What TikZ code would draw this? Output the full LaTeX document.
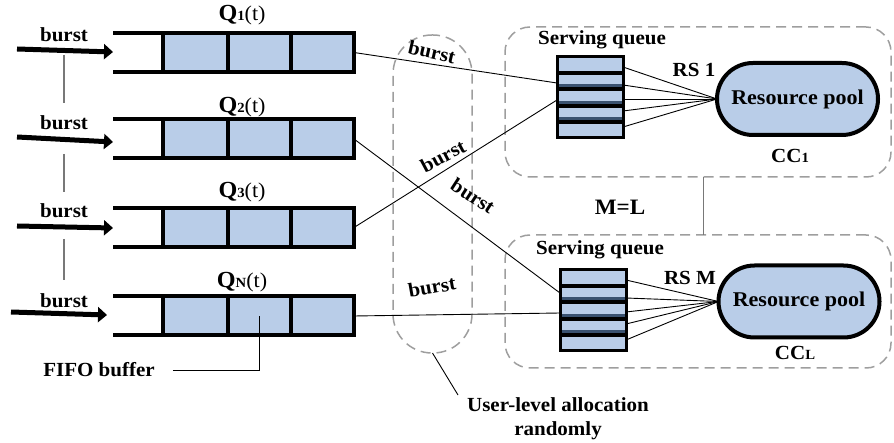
\documentclass[tikz,border=0pt]{standalone}
\usepackage{fontspec}
\setmainfont[FakeStretch=1.05]{Liberation Serif}
\usetikzlibrary{arrows.meta,calc,shapes.misc}
\definecolor{cellblue}{RGB}{185,205,232}
\definecolor{stripblue}{RGB}{58,82,112}
\definecolor{dashgray}{RGB}{158,158,158}
\definecolor{linkgray}{RGB}{120,120,120}

\newcommand{\qname}[1]{{\fontsize{23}{24}\selectfont\bfseries Q}{\fontsize{14}{15}\selectfont\bfseries #1}{\fontsize{21}{22}\selectfont (t)}}
\newcommand{\ccname}[1]{{\fontsize{20}{22}\selectfont\bfseries CC}{\fontsize{14}{15}\selectfont\bfseries #1}}

\begin{document}
\begin{tikzpicture}[x=1pt,y=-1pt,
  txt/.style={font=\fontsize{20}{22}\selectfont\bfseries, inner sep=0pt},
  qlabel/.style={inner sep=0pt},
  qbody/.style={draw, line width=4pt, fill=cellblue, minimum width=191pt,
    minimum height=39pt, inner sep=0pt, outer sep=0pt},
  qdiv/.style={line width=4pt},
  qmouth/.style={line width=4pt},
  inarrow/.style={line width=5pt, -{Triangle[length=9pt,width=15pt]}},
  graylink/.style={draw=linkgray, line width=1.2pt},
  link/.style={line width=0.9pt},
  sqbox/.style={draw, fill=black, line width=3pt, minimum width=66pt,
    minimum height=81pt, inner sep=0pt, outer sep=0pt},
  pool/.style={rounded rectangle, draw, line width=4pt, fill=cellblue,
    minimum width=161pt, minimum height=72pt, inner sep=0pt, outer sep=0pt,
    font=\fontsize{21}{22}\selectfont\bfseries},
  dbox/.style={draw=dashgray, line width=1.5pt, dash pattern=on 10pt off 6pt,
    inner sep=0pt, outer sep=0pt},
]
\useasboundingbox (0,0) rectangle (894,443);

% cloud-centre groups and allocation capsule (dashed)
\node[dbox, rounded corners=25pt, minimum width=386pt, minimum height=150pt] (cc1box) at (698,102) {};
\node[dbox, rounded corners=25pt, minimum width=386pt, minimum height=133pt] (cc2box) at (698,301.5) {};
\node[dbox, rounded corners=39pt, minimum width=79pt, minimum height=318pt] (alloc) at (432.5,194) {};

% user queues
\foreach \n/\y in {q1/52.5, q2/139, q3/227.5, qN/316}{
  \node[qbody] (\n) at (258.5,\y) {};
  \draw[qdiv] ($(\n.north west)+(65,0)$) -- ($(\n.south west)+(65,0)$);
  \draw[qdiv] ($(\n.north west)+(128,0)$) -- ($(\n.south west)+(128,0)$);
  \draw[qmouth] ($(\n.north west)+(-50,0)$) -- (\n.north west);
  \draw[qmouth] ($(\n.south west)+(-50,0)$) -- (\n.south west);
}
\node[qlabel] (l1) at (242,15) {\qname{1}};
\node[qlabel] (l2) at (242,107) {\qname{2}};
\node[qlabel] (l3) at (242,192) {\qname{3}};
\node[qlabel] (lN) at (242,282) {\qname{N}};

% incoming bursts
\node[txt] (b1) at (64,35) {burst};
\node[txt] (b2) at (64,123) {burst};
\node[txt] (b3) at (64,211) {burst};
\node[txt] (bN) at (64,301) {burst};
\coordinate (g1a) at (64,55);  \coordinate (g1b) at (64,103);
\coordinate (g2a) at (64,154); \coordinate (g2b) at (64,192);
\coordinate (g3a) at (64,239); \coordinate (g3b) at (64,280);
\draw[graylink] (g1a) -- (g1b);
\draw[graylink] (g2a) -- (g2b);
\draw[graylink] (g3a) -- (g3b);

\coordinate (t1) at (17,49);  \coordinate (h1) at (113,52);
\coordinate (t2) at (17,137); \coordinate (h2) at (113,142);
\coordinate (t3) at (17,226); \coordinate (h3) at (113,228);
\coordinate (tN) at (11,312); \coordinate (hN) at (107,315);
\draw[inarrow] (t1) -- (h1);
\draw[inarrow] (t2) -- (h2);
\draw[inarrow] (t3) -- (h3);
\draw[inarrow] (tN) -- (hN);

% FIFO buffer callout
\node[txt] (fifo) at (99,370) {FIFO buffer};
\coordinate (fifocell) at ($(qN.west)+(96,0)$);
\draw[link] ([xshift=18pt]fifo.east) -- (fifocell |- fifo.east) -- (fifocell);

% serving queues
\node[sqbox] (sq1) at (590,97.5) {};
\node[sqbox] (sq2) at (593,310.5) {};
\foreach \s in {sq1,sq2}{
  \foreach \i in {0,...,4}{
    \fill[cellblue] ($(\s.north west)+(1.5,1.5+\i*16.4)$) rectangle ++(63,12.4);
  }
  \foreach \i in {1,2,3}{
    \fill[stripblue] ($(\s.north west)+(1.5,10.9+\i*16.4)$) rectangle ++(63,3);
  }
}
\node[txt] (sl1) at (602,40) {Serving queue};
\node[txt] (sl2) at (600,250) {Serving queue};

% user queues to serving queues
\coordinate (s1a) at (557,83);
\coordinate (s1b) at (557,100);
\coordinate (s2a) at (560,293);
\coordinate (s2b) at (560,313);
\draw[link] (q1.east) -- (s1a);
\draw[link] (q3.east) -- (s1b);
\draw[link] (q2.east) -- (s2a);
\draw[link] (qN.east) -- (s2b);

\node[txt, rotate=-13] (m1) at (432,52) {burst};
\node[txt, rotate=28] (m2) at (443,156) {burst};
\node[txt, rotate=-33] (m3) at (473,196) {burst};
\node[txt, rotate=10] (m4) at (432,287) {burst};

% resource pools
\node[pool] (rp1) at (797.5,99) {Resource pool};
\node[pool] (rp2) at (799,301.5) {Resource pool};
\foreach \s/\p in {sq1/rp1, sq2/rp2}{
  \foreach \d in {10,28,42,54,70}{
    \draw[link] ($(\s.north east)+(0,\d)$) -- (\p.west);
  }
}
\node[txt] (rs1) at (694,70) {RS 1};
\node[txt] (rsM) at (690,278) {RS M};
\node[qlabel] (cc1) at (790,156) {\ccname{1}};
\node[qlabel] (ccL) at (795,353) {\ccname{L}};

% link between the two centres
\draw[link, draw=linkgray] ([xshift=5pt]cc1box.south) -- ([xshift=5pt]cc2box.north);
\node[txt, font=\fontsize{22}{24}\selectfont\bfseries] (ml) at (620,207) {M=L};

% allocation callout
\node[txt, align=center] (ula) at (558,419) {User-level allocation\\[2pt]randomly};
\coordinate (ulend) at (458,395);
\draw[link] (alloc.south) -- (ulend);
\end{tikzpicture}
\end{document}
